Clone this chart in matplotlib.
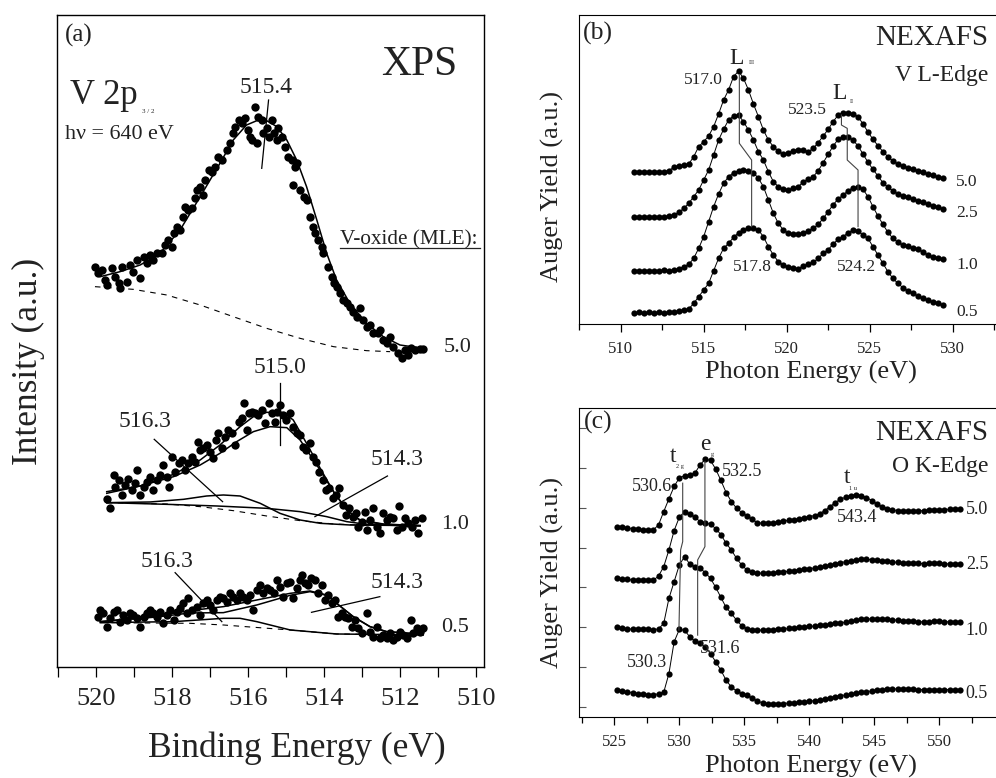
import numpy as np
import matplotlib
matplotlib.use("Agg")
import matplotlib.pyplot as plt
from matplotlib.ticker import MultipleLocator

plt.rcParams['font.family'] = ['Liberation Serif', 'DejaVu Serif']
TXT = '#222222'

# ---------------- (a) XPS V 2p3/2 ----------------
# 5.0 MLE
xps50_be = [520.03, 519.94, 519.85, 519.76, 519.72, 519.59, 519.50, 519.41, 519.37, 519.32,
            519.19, 519.10, 519.02, 518.93, 518.84, 518.75, 518.67, 518.58, 518.49, 518.40,
            518.27, 518.18, 518.10, 518.01, 517.96, 517.88, 517.79, 517.70, 517.66, 517.57,
            517.48, 517.39, 517.35, 517.26, 517.18, 517.13, 517.04, 516.96, 516.87, 516.78,
            516.69, 516.56, 516.47, 516.39, 516.34, 516.25, 516.17, 516.08, 515.99, 515.95,
            515.90, 515.82, 515.77, 515.73, 515.64, 515.60, 515.51, 515.46, 515.38, 515.33,
            515.24, 515.20, 515.11, 515.03, 514.94, 514.85, 514.76, 514.72, 514.81, 514.63,
            514.54, 514.46, 514.37, 514.28, 514.24, 514.15, 514.06, 514.02, 513.89, 513.80,
            513.75, 513.67, 513.58, 513.49, 513.40, 513.32, 513.23, 513.14, 513.05, 512.97,
            512.88, 512.79, 512.70, 512.57, 512.53, 512.44, 512.35, 512.26, 512.18, 512.04,
            511.96, 511.87, 511.79, 511.70, 511.61, 511.48, 511.39]
xps50_int = [1201, 1181, 1191, 1161, 1146, 1196, 1171, 1151, 1136, 1201,
             1156, 1206, 1186, 1221, 1166, 1231, 1211, 1236, 1221, 1241,
             1241, 1266, 1281, 1261, 1301, 1321, 1311, 1351, 1381, 1371,
             1376, 1406, 1431, 1441, 1416, 1461, 1491, 1486, 1501, 1531,
             1521, 1551, 1571, 1601, 1621, 1641, 1631, 1646, 1611, 1591,
             1581, 1681, 1571, 1651, 1641, 1601, 1616, 1591, 1641, 1601,
             1581, 1616, 1591, 1561, 1531, 1521, 1501, 1511, 1446, 1431,
             1411, 1401, 1351, 1321, 1301, 1281, 1261, 1241, 1201, 1171,
             1151, 1141, 1121, 1101, 1091, 1081, 1066, 1051, 1076, 1041,
             1021, 1026, 1001, 1001, 1011, 981, 971, 991, 961, 941,
             926, 951, 936, 956, 951, 953, 954]
fit50_be = [519.89, 519.37, 518.84, 518.32, 517.79, 517.26, 516.74, 516.39, 516.04, 515.77,
            515.51, 515.24, 514.98, 514.72, 514.46, 514.19, 513.93, 513.67, 513.32, 512.88,
            512.44, 512.00, 511.39]
fit50_int = [1171, 1186, 1206, 1241, 1311, 1411, 1511, 1581, 1626, 1639,
             1639, 1621, 1581, 1521, 1441, 1341, 1241, 1161, 1091, 1031,
             991, 966, 956]
bg50_be = [520.03, 519.02, 518.14, 517.26, 516.39, 515.51, 514.63, 513.75, 512.88, 512.26]
bg50_int = [1141, 1133, 1116, 1086, 1051, 1016, 986, 961, 949, 946]

# 1.0 MLE
xps10_be = [519.72, 519.63, 519.54, 519.50, 519.41, 519.32, 519.24, 519.15, 519.06, 518.97,
            518.93, 518.84, 518.75, 518.67, 518.58, 518.49, 518.40, 518.32, 518.23, 518.14,
            518.07, 518.01, 517.92, 517.83, 517.75, 517.66, 517.57, 517.48, 517.39, 517.31,
            517.26, 517.18, 517.09, 517.00, 516.91, 516.84, 516.78, 516.69, 516.61, 516.52,
            516.43, 516.34, 516.25, 516.17, 516.11, 516.04, 515.97, 515.90, 515.82, 515.73,
            515.64, 515.55, 515.46, 515.38, 515.29, 515.25, 515.16, 515.09, 515.00, 514.89,
            514.81, 514.72, 514.63, 514.56, 514.47, 514.37, 514.30, 514.21, 514.12, 514.03,
            513.95, 513.86, 513.77, 513.68, 513.60, 513.51, 513.42, 513.33, 513.25, 513.16,
            513.10, 513.01, 512.92, 512.88, 512.79, 512.70, 512.61, 512.53, 512.44, 512.35,
            512.26, 512.18, 512.09, 512.02, 511.96, 511.87, 511.78, 511.69, 511.61, 511.52,
            511.43]
xps10_int = [503, 476, 576, 541, 561, 516, 546, 563, 531, 551,
             591, 516, 541, 556, 571, 531, 561, 576, 606, 571,
             541, 631, 586, 611, 621, 591, 611, 631, 616, 676,
             651, 656, 666, 646, 626, 681, 701, 656, 691, 711,
             701, 666, 736, 746, 791, 711, 761, 766, 761, 756,
             771, 731, 791, 761, 736, 766, 786, 756, 741, 761,
             721, 701, 696, 661, 651, 671, 631, 616, 586, 561,
             531, 536, 506, 516, 536, 486, 456, 476, 451, 461,
             421, 436, 466, 411, 441, 476, 421, 401, 461, 441,
             451, 446, 411, 483, 421, 446, 431, 421, 441, 401,
             446]
fit10_be = [519.72, 518.84, 517.96, 517.26, 516.74, 516.21, 515.86, 515.51, 515.07, 514.81,
            514.46, 514.10, 513.75, 513.40, 513.05, 512.44, 511.47]
fit10_int = [526, 543, 578, 621, 666, 721, 751, 764, 763, 741,
             671, 596, 526, 471, 439, 428, 424]
main10_be = [519.72, 518.84, 517.96, 517.26, 516.74, 516.30, 515.86, 515.42, 514.98, 514.63,
             514.19, 513.75, 513.40, 513.05, 512.44, 511.47]
main10_int = [521, 543, 571, 606, 641, 676, 706, 721, 718, 681,
              606, 526, 471, 441, 429, 424]
c516_10_be = [519.72, 518.58, 517.70, 517.09, 516.65, 516.21, 515.68, 515.16, 514.63, 514.10,
              513.32, 511.47]
c516_10_int = [493, 495, 503, 513, 516, 513, 491, 461, 441, 431, 426, 424]
c514_10_be = [519.72, 518.14, 516.82, 515.51, 514.63, 513.93, 513.40, 512.88, 512.18, 511.47]
c514_10_int = [493, 488, 483, 476, 466, 451, 436, 428, 425, 424]
bg10_be = [519.72, 518.14, 517.26, 516.39, 515.51, 514.63, 513.75, 512.88, 511.47]
bg10_int = [493, 489, 481, 469, 453, 439, 429, 425, 424]

# 0.5 MLE
xps05_be = [519.94, 519.89, 519.81, 519.72, 519.63, 519.54, 519.46, 519.37, 519.28, 519.19,
            519.10, 519.02, 518.93, 518.84, 518.75, 518.67, 518.58, 518.49, 518.40, 518.32,
            518.23, 518.14, 518.05, 517.96, 517.88, 517.79, 517.70, 517.61, 517.57, 517.48,
            517.35, 517.26, 517.18, 517.09, 517.00, 516.91, 516.82, 516.74, 516.65, 516.56,
            516.47, 516.39, 516.30, 516.21, 516.12, 516.04, 515.95, 515.86, 515.77, 515.68,
            515.60, 515.51, 515.42, 515.33, 515.25, 515.16, 515.07, 514.98, 514.89, 514.81,
            514.72, 514.63, 514.59, 514.50, 514.41, 514.33, 514.24, 514.15, 514.06, 513.97,
            513.89, 513.80, 513.71, 513.62, 513.53, 513.45, 513.36, 513.27, 513.18, 513.10,
            513.01, 512.88, 512.79, 512.70, 512.61, 512.53, 512.44, 512.35, 512.26, 512.18,
            512.09, 512.00, 511.91, 511.82, 511.72, 511.65, 511.56, 511.47, 511.39]
xps05_int = [151, 171, 161, 121, 146, 166, 171, 136, 156, 141,
             161, 156, 146, 121, 151, 161, 171, 161, 151, 166,
             131, 156, 171, 141, 166, 176, 193, 161, 206, 171,
             181, 156, 191, 201, 186, 171, 201, 211, 206, 196,
             221, 211, 201, 221, 211, 201, 216, 171, 231, 246,
             221, 236, 231, 221, 261, 241, 211, 251, 256, 206,
             236, 261, 276, 251, 246, 266, 261, 221, 246, 201,
             216, 191, 201, 151, 161, 151, 146, 121, 141, 116,
             101, 161, 106, 91, 121, 86, 96, 86, 101, 81,
             91, 106, 96, 86, 141, 101, 116, 106, 116]
fit05_be = [519.89, 518.40, 517.53, 516.65, 515.77, 514.89, 514.37, 513.93, 513.67, 513.23,
            512.79, 512.35, 511.39]
fit05_int = [136, 153, 169, 181, 201, 221, 228, 216, 191, 151, 121, 106, 98]
main05_int = [136, 150, 162, 163, 186, 215, 226, 215, 191, 151, 121, 106, 98]
c516_05_be = [519.89, 517.96, 516.65, 516.21, 515.77, 514.89, 513.67, 511.39]
c516_05_int = [133, 136, 146, 146, 136, 111, 99, 96]
bg05_be = [519.89, 517.53, 516.65, 514.89, 513.67, 511.39]
bg05_int = [133, 131, 126, 111, 99, 96]

# ---------------- (b) V L-edge NEXAFS ----------------
e_vl = [510.8, 511.1, 511.4, 511.7, 512.0, 512.3, 512.6, 512.9, 513.2, 513.5,
        513.8, 514.1, 514.4, 514.7, 515.0, 515.3, 515.6, 515.9, 516.2, 516.5,
        516.8, 517.1, 517.4, 517.7, 518.0, 518.3, 518.6, 518.9, 519.2, 519.5,
        519.8, 520.1, 520.4, 520.7, 521.0, 521.3, 521.6, 521.9, 522.2, 522.5,
        522.8, 523.1, 523.4, 523.7, 524.0, 524.3, 524.6, 524.9, 525.2, 525.5,
        525.8, 526.1, 526.4, 526.7, 527.0, 527.3, 527.6, 527.9, 528.2, 528.5,
        528.8, 529.1, 529.4]
vl_50 = [457, 457, 457, 456, 457, 456, 457, 460, 470, 475, 476, 480, 502, 532, 547, 564,
         592, 630, 672, 702, 742, 759, 737, 702, 660, 622, 582, 552, 532, 519, 509, 514,
         520, 523, 522, 517, 527, 544, 564, 584, 607, 627, 633, 634, 631, 622, 600, 576,
         554, 535, 517, 502, 489, 480, 474, 469, 465, 460, 455, 450, 446, 442, 438]
vl_25 = [322, 322, 321, 322, 322, 321, 322, 324, 327, 335, 347, 362, 382, 402, 432, 462,
         507, 552, 584, 612, 624, 627, 607, 582, 552, 517, 492, 457, 427, 412, 404, 402,
         407, 412, 427, 434, 442, 460, 484, 509, 534, 554, 562, 561, 552, 534, 510, 485,
         464, 444, 424, 410, 400, 390, 385, 381, 375, 370, 365, 360, 355, 350, 346]
vl_10 = [160, 160, 159, 160, 160, 159, 161, 160, 162, 166, 172, 179, 197, 227, 262, 307,
         352, 390, 422, 442, 454, 460, 462, 460, 454, 437, 412, 372, 332, 302, 282, 272,
         270, 270, 274, 280, 287, 299, 317, 337, 358, 375, 387, 400, 409, 412, 404, 382,
         352, 324, 299, 275, 257, 245, 237, 233, 229, 224, 217, 207, 201, 198, 196]
vl_05 = [34, 35, 34, 35, 34, 35, 34, 36, 35, 40, 42, 45, 62, 82, 102, 122,
         160, 197, 227, 242, 260, 274, 282, 288, 288, 282, 262, 232, 207, 187, 177, 172,
         167, 166, 174, 180, 185, 197, 212, 223, 240, 254, 262, 274, 281, 280, 267, 257,
         232, 207, 182, 157, 137, 122, 109, 100, 92, 84, 77, 71, 67, 62, 58]

# ---------------- (c) O K-edge NEXAFS ----------------
e_ok = [525.2, 525.6, 526.0, 526.4, 526.8, 527.2, 527.6, 528.0, 528.4, 528.8,
        529.2, 529.6, 530.0, 530.4, 530.8, 531.2, 531.6, 532.0, 532.4, 532.8,
        533.2, 533.6, 534.0, 534.4, 534.8, 535.2, 535.6, 536.0, 536.4, 536.8,
        537.2, 537.6, 538.0, 538.4, 538.8, 539.2, 539.6, 540.0, 540.4, 540.8,
        541.2, 541.6, 542.0, 542.4, 542.8, 543.2, 543.6, 544.0, 544.4, 544.8,
        545.2, 545.6, 546.0, 546.4, 546.8, 547.2, 547.6, 548.0, 548.4, 548.8,
        549.2, 549.6, 550.0, 550.4, 550.8, 551.2, 551.6]
ok_50 = [570, 568, 566, 564, 562, 561, 560, 560, 575, 615, 653, 690, 716, 722, 725, 730,
         755, 772, 768, 742, 708, 672, 645, 625, 612, 602, 592, 582, 580, 581, 582, 584,
         586, 589, 591, 593, 596, 600, 603, 609, 618, 630, 642, 652, 658, 663, 665, 663,
         657, 648, 638, 630, 624, 620, 618, 617, 617, 617, 617, 618, 619, 620, 620, 621,
         622, 623, 624]
ok_25 = [415, 413, 412, 410, 411, 410, 410, 409, 422, 450, 500, 558, 598, 615, 607, 598,
         585, 581, 577, 564, 546, 520, 500, 475, 455, 440, 433, 430, 431, 432, 432, 434,
         435, 436, 438, 440, 442, 444, 446, 448, 451, 455, 459, 462, 465, 467, 469, 472,
         472, 471, 470, 468, 466, 464, 463, 462, 461, 460, 460, 459, 460, 460, 460, 459,
         458, 459, 458]
ok_10 = [268, 266, 264, 263, 262, 262, 262, 261, 264, 280, 355, 405, 455, 480, 458, 450,
         445, 432, 415, 388, 358, 328, 310, 290, 273, 264, 260, 260, 260, 260, 261, 262,
         263, 265, 266, 268, 270, 271, 272, 274, 276, 278, 280, 282, 284, 287, 290, 292,
         293, 294, 294, 294, 293, 291, 290, 288, 287, 286, 285, 285, 285, 286, 286, 285,
         285, 285, 285]
ok_05 = [80, 77, 75, 73, 70, 68, 65, 66, 70, 74, 130, 225, 262, 260, 240, 227,
         221, 210, 190, 165, 140, 110, 90, 78, 70, 65, 57, 48, 42, 39, 38, 38,
         40, 42, 43, 44, 45, 47, 49, 51, 54, 58, 61, 64, 66, 69, 72, 74,
         76, 78, 80, 82, 83, 84, 84, 84, 83, 83, 82, 82, 81, 80, 81, 82,
         82, 82, 82]

coverage = ['5.0', '2.5', '1.0', '0.5']


fig = plt.figure(figsize=(9.96, 7.78), dpi=100)

# ---- panel (a)
ax = fig.add_axes([0.0572, 0.1427, 0.4287, 0.838])
ax.set_xlim(521.03, 509.79)
ax.set_ylim(0, 1956)

dot = dict(marker='o', ls='none', color='black', ms=6.0, mew=0)
ax.plot(xps50_be, xps50_int, **dot)
ax.plot(xps10_be, xps10_int, **dot)
ax.plot(xps05_be, xps05_int, **dot)

fitstyle = dict(color='black', lw=1.1)
dash = dict(color='black', lw=0.8, ls=(0, (5, 5)))
ax.plot(fit50_be, fit50_int, **fitstyle)
ax.plot(bg50_be, bg50_int, **dash)
ax.plot(fit10_be, fit10_int, **fitstyle)
ax.plot(main10_be, main10_int, **fitstyle)
ax.plot(c516_10_be, c516_10_int, **fitstyle)
ax.plot(c514_10_be, c514_10_int, **fitstyle)
ax.plot(bg10_be, bg10_int, **dash)
ax.plot(fit05_be, fit05_int, **fitstyle)
ax.plot(fit05_be, main05_int, **fitstyle)
ax.plot(c516_05_be, c516_05_int, **fitstyle)
ax.plot(bg05_be, bg05_int, **dash)

# peak markers
pl = dict(color='black', lw=0.9)
ax.plot([515.46, 515.64], [1701, 1496], **pl)
ax.plot([515.17, 515.17], [851, 666], **pl)
ax.plot([518.47, 516.67], [683, 496], **pl)
ax.plot([512.33, 514.24], [573, 451], **pl)
ax.plot([517.92, 516.69], [283, 136], **pl)
ax.plot([512.53, 514.33], [211, 164], **pl)

lab = dict(color=TXT, ha='center', va='center', fontsize=17)
ax.text(515.53, 1740, '515.4', **lab)
ax.text(515.16, 897, '515.0', **lab)
ax.text(518.71, 735, '516.3', **lab)
ax.text(512.08, 621, '514.3', **lab)
ax.text(518.13, 315, '516.3', **lab)
ax.text(512.08, 252, '514.3', **lab)

ax.text(510.47, 957, '5.0', color=TXT, ha='center', va='center', fontsize=16)
ax.text(510.55, 426, '1.0', color=TXT, ha='center', va='center', fontsize=16)
ax.text(510.55, 117, '0.5', color=TXT, ha='center', va='center', fontsize=16)
ax.text(513.58, 1281, 'V-oxide (MLE):', color=TXT, ha='left', va='center', fontsize=15.3)
ax.plot([513.58, 509.9], [1258, 1258], color=TXT, lw=0.9)

ax.text(0.052, 0.969, '(a)', transform=ax.transAxes, color=TXT, ha='center', va='center', fontsize=18)
ax.text(0.848, 0.923, 'XPS', transform=ax.transAxes, color=TXT, ha='center', va='center', fontsize=30)
ax.text(0.030, 0.877, 'V 2p', transform=ax.transAxes, color=TXT, ha='left', va='center', fontsize=25)
ax.text(0.213, 0.852, '3 / 2', transform=ax.transAxes, color=TXT, ha='center', va='center', fontsize=5)
ax.text(0.019, 0.816, 'h\u03bd = 640 eV', transform=ax.transAxes, color=TXT, ha='left', va='center', fontsize=15.8)

ax.set_yticks([])
ax.xaxis.set_major_locator(MultipleLocator(2))
ax.xaxis.set_minor_locator(MultipleLocator(1))
ax.tick_params(axis='x', which='both', direction='out', length=7, width=0.9, labelsize=19,
               labelcolor=TXT, pad=8)
for s in ax.spines.values():
    s.set_linewidth(1.0)
fig.text(297 / 996, 1 - 748 / 778, 'Binding Energy (eV)', color=TXT, ha='center', va='center', fontsize=25.5)
fig.text(28 / 996, 1 - 361 / 778, 'Intensity (a.u.)', color=TXT, ha='center', va='center',
         fontsize=25.5, rotation=90)

# ---- panel (b)
bx = fig.add_axes([0.5813, 0.5835, 0.4227, 0.3972])
bx.set_xlim(507.49, 532.85)
bx.set_ylim(0, 927)
nex = dict(marker='o', ms=4.5, mew=0, color='black', lw=0.7)
for series in [vl_50, vl_25, vl_10, vl_05]:
    bx.plot(e_vl, series, **nex)

gl = dict(color='#444444', lw=0.8)
bx.plot([517.15, 517.15, 517.89, 517.89], [747, 542, 492, 292], **gl)
bx.plot([523.3, 523.3, 523.65, 523.65, 524.3, 524.3], [627, 597, 587, 492, 462, 292], **gl)

sl = dict(color=TXT, ha='center', va='center', fontsize=12.5)
bx.text(514.96, 732, '517.0', **sl)
bx.text(521.22, 642, '523.5', **sl)
bx.text(517.92, 171, '517.8', **sl)
bx.text(524.18, 171, '524.2', **sl)
bx.text(517.0, 798, 'L', color=TXT, ha='center', va='center', fontsize=17)
bx.text(517.91, 784, 'III', color=TXT, ha='center', va='center', fontsize=4.5)
bx.text(523.21, 693, 'L', color=TXT, ha='center', va='center', fontsize=17)
bx.text(523.94, 669, 'II', color=TXT, ha='center', va='center', fontsize=4.5)
for yy, cv in zip([426, 333, 177, 36], coverage):
    bx.text(530.87, yy, cv, color=TXT, ha='center', va='center', fontsize=12.5)
bx.text(508.63, 873, '(b)', color=TXT, ha='center', va='center', fontsize=18.5)
bx.text(532.13, 858, 'NEXAFS', color=TXT, ha='right', va='center', fontsize=21)
bx.text(532.13, 747, 'V L-Edge', color=TXT, ha='right', va='center', fontsize=17)

bx.set_yticks([])
bx.xaxis.set_major_locator(MultipleLocator(5))
bx.xaxis.set_minor_locator(MultipleLocator(2.5))
bx.tick_params(axis='x', which='major', direction='out', length=6, width=0.9, labelsize=12,
               labelcolor=TXT, pad=6)
bx.tick_params(axis='x', which='minor', direction='out', length=4, width=0.9)
fig.text(811 / 996, 1 - 372 / 778, 'Photon Energy (eV)', color=TXT, ha='center', va='center', fontsize=19)
fig.text(552 / 996, 1 - 186 / 778, 'Auger Yield (a.u.)', color=TXT, ha='center', va='center',
         fontsize=19, rotation=90)

# ---- panel (c)
cx = fig.add_axes([0.5813, 0.0784, 0.4227, 0.3972])
cx.set_xlim(522.28, 554.67)
cx.set_ylim(0, 925)
for series in [ok_50, ok_25, ok_10, ok_05]:
    cx.plot(e_ok, series, **nex)

cx.plot([530.26, 530.26, 530.1, 529.97], [700, 525, 500, 260], **gl)
cx.plot([531.97, 531.97, 531.41, 531.41], [765, 510, 470, 245], **gl)

sl2 = dict(color=TXT, ha='center', va='center', fontsize=13)
cx.text(527.9, 689, '530.6', **sl2)
cx.text(534.82, 734, '532.5', **sl2)
cx.text(543.65, 596, '543.4', **sl2)
cx.text(527.51, 164, '530.3', **sl2)
cx.text(533.13, 206, '531.6', **sl2)
cx.text(529.52, 779, 't', color=TXT, ha='center', va='center', fontsize=17)
cx.text(530.05, 749, '2 g', color=TXT, ha='center', va='center', fontsize=4.5)
cx.text(531.97, 815, 'e', color=TXT, ha='center', va='center', fontsize=17)
cx.text(532.5, 785, 'g', color=TXT, ha='center', va='center', fontsize=4.5)
cx.text(542.9, 716, 't', color=TXT, ha='center', va='center', fontsize=17)
cx.text(543.4, 683, '1 u', color=TXT, ha='center', va='center', fontsize=4.5)
for yy, cv in zip([620, 455, 260, 71], coverage):
    cx.text(552.9, yy, cv, color=TXT, ha='center', va='center', fontsize=13)
cx.text(523.75, 881, '(c)', color=TXT, ha='center', va='center', fontsize=18.5)
cx.text(553.75, 851, 'NEXAFS', color=TXT, ha='right', va='center', fontsize=21)
cx.text(553.75, 749, 'O K-Edge', color=TXT, ha='right', va='center', fontsize=17)

cx.set_yticks([30, 149, 268, 388, 507, 626, 746, 865])
cx.set_yticklabels([])
cx.tick_params(axis='y', direction='in', length=5, width=0.8, colors='#555555')
cx.xaxis.set_major_locator(MultipleLocator(5))
cx.xaxis.set_minor_locator(MultipleLocator(2.5))
cx.tick_params(axis='x', which='major', direction='out', length=6, width=0.9, labelsize=12,
               labelcolor=TXT, pad=6)
cx.tick_params(axis='x', which='minor', direction='out', length=4, width=0.9)
fig.text(811 / 996, 1 - 766 / 778, 'Photon Energy (eV)', color=TXT, ha='center', va='center', fontsize=19)
fig.text(552 / 996, 1 - 572 / 778, 'Auger Yield (a.u.)', color=TXT, ha='center', va='center',
         fontsize=19, rotation=90)

fig.savefig('out.png', dpi=100)
